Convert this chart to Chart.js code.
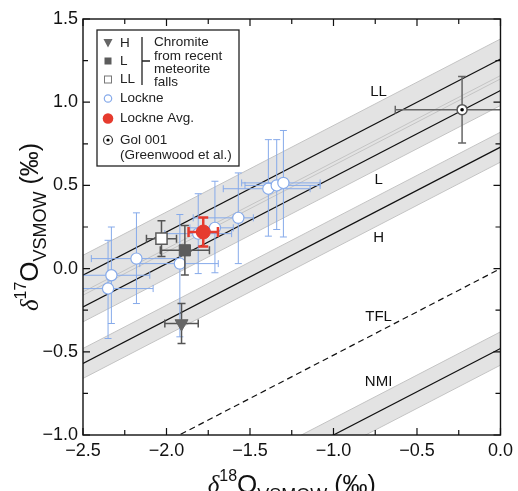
<!DOCTYPE html>
<html>
<head>
<meta charset="utf-8">
<script src="https://cdn.jsdelivr.net/npm/chart.js@4.4.0/dist/chart.umd.min.js"></script>
<style>
  body { margin: 0; background: #fff; }
  #wrap { width: 518px; height: 491px; }
</style>
</head>
<body>
<div id="wrap"><canvas id="oxygen-chart" width="518" height="491"></canvas></div>
<script>
// fractionation lines, slope 0.52, given by their D17O and band half width
const lineNames = ['LL', 'L', 'H', 'NMI'];
const lineD17O = [1.26, 1.07, 0.73, -0.48];
const lineSpread = [0.12, 0.09, 0.09, 0.10];
const slope = 0.52;
const lineEndsX = [-2.5, 0];

// Lockne grains
const lockneX = [-2.33, -2.35, -2.18, -1.92, -1.81, -1.71, -1.57, -1.39, -1.34, -1.30];
const lockneY = [-0.04, -0.12, 0.06, 0.03, 0.21, 0.245, 0.305, 0.48, 0.50, 0.515];
const lockneXLo = [-2.56, -2.58, -2.45, -2.16, -2.01, -1.86, -1.84, -1.66, -1.53, -1.55];
const lockneXHi = [-2.10, -2.08, -1.92, -1.69, -1.61, -1.60, -1.48, -1.14, -1.08, -1.08];
const lockneYLo = [-0.33, -0.42, -0.21, -0.41, -0.03, -0.025, 0.03, 0.195, 0.235, 0.19];
const lockneYHi = [0.25, 0.17, 0.335, 0.325, 0.45, 0.525, 0.575, 0.775, 0.775, 0.83];

// Lockne average
const avgX = [-1.78];
const avgY = [0.22];
const avgXErr = [0.088];
const avgYErr = [0.087];

// chromite from recent falls: H, L, LL
const chromiteTypes = ['H', 'L', 'LL'];
const chromiteX = [-1.91, -1.89, -2.03];
const chromiteY = [-0.33, 0.11, 0.18];
const chromiteXErr = [0.10, 0.147, 0.09];
const chromiteYErr = [0.12, 0.149, 0.108];

// Gol 001 (Greenwood et al.)
const golX = [-0.23];
const golY = [0.955];
const golXErr = [0.40];
const golYErr = [0.20];

const xTicks = [-2.5, -2.0, -1.5, -1.0, -0.5, 0.0];
const yTicks = [-1.0, -0.5, 0.0, 0.5, 1.0, 1.5];

const labelNames = ['LL', 'L', 'H', 'TFL', 'NMI'];
const labelY = [1.06, 0.535, 0.185, -0.29, -0.68];
const labelX = -0.73;

const FONT = '"Liberation Sans", Arial, Helvetica, sans-serif';

const pts = (xs, ys) => xs.map((x, i) => ({ x: x, y: ys[i] }));
const symErr = (xs, ys, xe, ye) => ({
    xLo: xs.map((v, i) => v - xe[i]), xHi: xs.map((v, i) => v + xe[i]),
    yLo: ys.map((v, i) => v - ye[i]), yHi: ys.map((v, i) => v + ye[i])
});

const datasets = [];
lineNames.forEach((name, i) => {
    const edge = (off) => lineEndsX.map(x => ({ x: x, y: slope * x + lineD17O[i] + off }));
    datasets.push({ type: 'line', data: edge(lineSpread[i]), borderColor: '#c4c4c4', borderWidth: 1,
        pointRadius: 0, fill: '+1', backgroundColor: '#e3e3e3', order: 30 });
    datasets.push({ type: 'line', data: edge(-lineSpread[i]), borderColor: '#c4c4c4', borderWidth: 1,
        pointRadius: 0, fill: false, order: 30 });
    datasets.push({ type: 'line', data: edge(0), borderColor: '#111', borderWidth: 1.2,
        pointRadius: 0, fill: false, order: 20 });
});
// terrestrial fractionation line
datasets.push({ type: 'line', data: lineEndsX.map(x => ({ x: x, y: slope * x })), borderColor: '#111',
    borderWidth: 1.2, borderDash: [6, 4], pointRadius: 0, fill: false, order: 20 });

datasets.push({ type: 'scatter', label: 'Gol 001', data: pts(golX, golY), pointStyle: 'circle', pointRadius: 5,
    borderWidth: 1.5, borderColor: '#555', backgroundColor: '#fff', order: 9,
    errors: Object.assign(symErr(golX, golY, golXErr, golYErr), { color: '#666', width: 1.5, cap: 4 }) });
datasets.push({ type: 'scatter', label: 'Gol dot', data: pts(golX, golY), pointStyle: 'circle', pointRadius: 1.8,
    borderWidth: 0, backgroundColor: '#000', order: 8 });

datasets.push({ type: 'scatter', label: 'Lockne', data: pts(lockneX, lockneY), pointStyle: 'circle', pointRadius: 5.6,
    borderWidth: 1.2, borderColor: '#86aaea', backgroundColor: '#fff', order: 7,
    errors: { xLo: lockneXLo, xHi: lockneXHi, yLo: lockneYLo, yHi: lockneYHi, color: '#86aaea', width: 1, cap: 3.5 } });

const chromStyle = [
    { pointStyle: 'triangle', rotation: 180, pointRadius: 7.5, backgroundColor: '#666', borderColor: '#666', borderWidth: 1 },
    { pointStyle: 'rect', pointRadius: 7.9, backgroundColor: '#5c5c5c', borderColor: '#5c5c5c', borderWidth: 1 },
    { pointStyle: 'rect', pointRadius: 7.9, backgroundColor: '#fff', borderColor: '#5c5c5c', borderWidth: 1.5 }
];
chromiteTypes.forEach((t, i) => {
    const e = symErr([chromiteX[i]], [chromiteY[i]], [chromiteXErr[i]], [chromiteYErr[i]]);
    datasets.push(Object.assign({ type: 'scatter', label: t, data: pts([chromiteX[i]], [chromiteY[i]]), order: 4 - i,
        errors: Object.assign(e, { color: '#555', width: 1.5, cap: 4 }) }, chromStyle[i]));
});

datasets.push({ type: 'scatter', label: 'Lockne Avg.', data: pts(avgX, avgY), pointStyle: 'circle', pointRadius: 7,
    borderWidth: 1, borderColor: '#e63b2e', backgroundColor: '#e63b2e', order: 0,
    errors: Object.assign(symErr(avgX, avgY, avgXErr, avgYErr), { color: '#e63b2e', width: 2.5, cap: 5 }) });

const errorBars = {
    id: 'errorBars',
    beforeDatasetDraw(chart, args) {
        const ds = chart.data.datasets[args.index];
        const e = ds.errors;
        if (!e) return;
        const { ctx, chartArea: a } = chart;
        const sx = chart.scales.x, sy = chart.scales.y;
        ctx.save();
        ctx.beginPath();
        ctx.rect(a.left, a.top, a.right - a.left, a.bottom - a.top);
        ctx.clip();
        ctx.strokeStyle = e.color;
        ctx.lineWidth = e.width;
        ds.data.forEach((p, i) => {
            const px = sx.getPixelForValue(p.x), py = sy.getPixelForValue(p.y);
            const x0 = sx.getPixelForValue(e.xLo[i]), x1 = sx.getPixelForValue(e.xHi[i]);
            const y0 = sy.getPixelForValue(e.yLo[i]), y1 = sy.getPixelForValue(e.yHi[i]);
            ctx.beginPath();
            ctx.moveTo(x0, py); ctx.lineTo(x1, py);
            ctx.moveTo(x0, py - e.cap); ctx.lineTo(x0, py + e.cap);
            ctx.moveTo(x1, py - e.cap); ctx.lineTo(x1, py + e.cap);
            ctx.moveTo(px, y0); ctx.lineTo(px, y1);
            ctx.moveTo(px - e.cap, y0); ctx.lineTo(px + e.cap, y0);
            ctx.moveTo(px - e.cap, y1); ctx.lineTo(px + e.cap, y1);
            ctx.stroke();
        });
        ctx.restore();
    }
};

// draws rich text (italic delta, superscript, subscript) along a baseline
function drawRich(ctx, parts) {
    let w = 0;
    parts.forEach(p => { ctx.font = p.font; p.w = ctx.measureText(p.text).width; w += p.w; });
    let x = -w / 2;
    parts.forEach(p => {
        ctx.font = p.font;
        ctx.fillText(p.text, x, p.dy);
        x += p.w;
    });
}

function titleParts(sup) {
    return [
        { text: 'δ', font: 'italic 25px "Liberation Serif", serif', dy: 0 },
        { text: sup, font: '16px ' + FONT, dy: -12 },
        { text: 'O', font: '26px ' + FONT, dy: 0 },
        { text: 'VSMOW', font: '18px ' + FONT, dy: 8 },
        { text: ' (‰)', font: '25px ' + FONT, dy: 0 }
    ];
}

const decorations = {
    id: 'decorations',
    afterDatasetsDraw(chart) {
        const { ctx, chartArea: a } = chart;
        const sx = chart.scales.x, sy = chart.scales.y;
        ctx.save();
        // frame
        ctx.strokeStyle = '#111';
        ctx.lineWidth = 1.4;
        ctx.strokeRect(a.left, a.top, a.right - a.left, a.bottom - a.top);
        // inward ticks, every 0.25
        ctx.lineWidth = 1.2;
        ctx.beginPath();
        for (let k = 0; k <= 10; k++) {
            const len = k % 2 === 0 ? 7 : 5;
            const px = sx.getPixelForValue(-2.5 + k * 0.25);
            ctx.moveTo(px, a.bottom); ctx.lineTo(px, a.bottom - len);
            ctx.moveTo(px, a.top); ctx.lineTo(px, a.top + len);
            const py = sy.getPixelForValue(-1 + k * 0.25);
            ctx.moveTo(a.left, py); ctx.lineTo(a.left + len, py);
            ctx.moveTo(a.right, py); ctx.lineTo(a.right - len, py);
        }
        ctx.stroke();

        // line labels
        ctx.fillStyle = '#111';
        ctx.font = '15px ' + FONT;
        ctx.textAlign = 'center';
        ctx.textBaseline = 'middle';
        labelNames.forEach((t, i) => {
            ctx.fillText(t, sx.getPixelForValue(labelX), sy.getPixelForValue(labelY[i]));
        });

        // legend box
        ctx.fillStyle = '#fff';
        ctx.fillRect(97, 30, 142, 136);
        ctx.strokeStyle = '#222';
        ctx.lineWidth = 1.3;
        ctx.strokeRect(97, 30, 142, 136);

        ctx.fillStyle = '#666';
        ctx.beginPath();
        ctx.moveTo(103.5, 39); ctx.lineTo(112.5, 39); ctx.lineTo(108, 47.5); ctx.closePath();
        ctx.fill();
        ctx.fillStyle = '#5c5c5c';
        ctx.fillRect(104.5, 57.5, 7, 7);
        ctx.strokeStyle = '#777';
        ctx.lineWidth = 1;
        ctx.strokeRect(104.5, 76, 7, 7);
        ctx.strokeStyle = '#86aaea';
        ctx.lineWidth = 1.2;
        ctx.beginPath(); ctx.arc(108, 98.5, 3.7, 0, Math.PI * 2); ctx.stroke();
        ctx.fillStyle = '#e63b2e';
        ctx.beginPath(); ctx.arc(108, 118.5, 5.3, 0, Math.PI * 2); ctx.fill();
        ctx.strokeStyle = '#333';
        ctx.beginPath(); ctx.arc(108, 140, 4.5, 0, Math.PI * 2); ctx.stroke();
        ctx.fillStyle = '#000';
        ctx.beginPath(); ctx.arc(108, 140, 1.6, 0, Math.PI * 2); ctx.fill();

        ctx.strokeStyle = '#222';
        ctx.lineWidth = 1.3;
        ctx.beginPath();
        ctx.moveTo(142, 37); ctx.lineTo(142, 85);
        ctx.moveTo(142, 61); ctx.lineTo(150, 61);
        ctx.stroke();

        ctx.fillStyle = '#222';
        ctx.font = '13.5px ' + FONT;
        ctx.textAlign = 'left';
        [['H', 43], ['L', 61], ['LL', 79.5], ['Lockne', 98.5], ['Lockne Avg.', 118.5],
         ['Gol 001', 140], ['(Greenwood et al.)', 155.5]].forEach(r => ctx.fillText(r[0], 120, r[1]));
        [['Chromite', 42.5], ['from recent', 56], ['meteorite', 69.5], ['falls', 82]]
            .forEach(r => ctx.fillText(r[0], 154, r[1]));

        // axis titles
        ctx.fillStyle = '#111';
        ctx.textBaseline = 'alphabetic';
        ctx.save();
        ctx.translate((a.left + a.right) / 2, 493);
        drawRich(ctx, titleParts('18'));
        ctx.restore();
        ctx.save();
        ctx.translate(38, (a.top + a.bottom) / 2);
        ctx.rotate(-Math.PI / 2);
        drawRich(ctx, titleParts('17'));
        ctx.restore();
        ctx.restore();
    }
};

const fmt = v => (v < 0 ? '\u2212' : '') + Math.abs(v).toFixed(1);

new Chart(document.getElementById('oxygen-chart'), {
    type: 'line',
    data: { datasets: datasets },
    options: {
        responsive: false,
        animation: false,
        devicePixelRatio: 1,
        layout: { padding: { top: 19, right: 16, left: 0, bottom: 0 } },
        plugins: {
            legend: { display: false },
            tooltip: { enabled: false },
            filler: { drawTime: 'beforeDatasetsDraw' }
        },
        scales: {
            x: {
                type: 'linear', min: -2.5, max: 0,
                afterBuildTicks: s => { s.ticks = xTicks.map(v => ({ value: v })); },
                ticks: { callback: fmt, font: { size: 18, family: FONT }, color: '#111', padding: 5, maxRotation: 0, autoSkip: false },
                grid: { display: false, drawTicks: false },
                border: { display: false },
                afterFit: s => { s.height = 56; }
            },
            y: {
                type: 'linear', min: -1, max: 1.5,
                afterBuildTicks: s => { s.ticks = yTicks.map(v => ({ value: v })); },
                ticks: { callback: fmt, font: { size: 18, family: FONT }, color: '#111', padding: 5, autoSkip: false },
                grid: { display: false, drawTicks: false },
                border: { display: false },
                afterFit: s => { s.width = 83; }
            }
        }
    },
    plugins: [errorBars, decorations]
});
</script>
</body>
</html>
